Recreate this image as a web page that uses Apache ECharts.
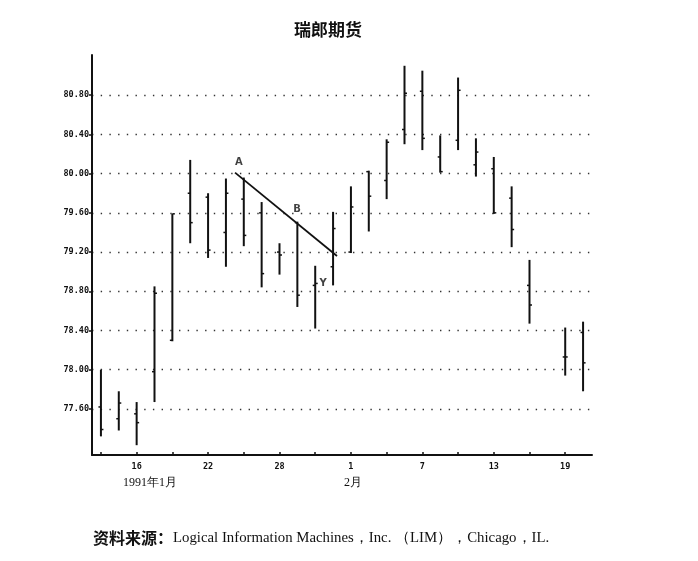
<!DOCTYPE html>
<html><head><meta charset="utf-8">
<script src="https://cdn.jsdelivr.net/npm/echarts@6/dist/echarts.min.js"></script>
<style>html,body{margin:0;padding:0;background:#fff}#c{width:698px;height:561px}</style>
</head><body><div id="c"></div>
<script>
// trading days, 14 Jan 1991 – 20 Feb 1991 (18 Feb holiday: empty slot)
const dayLabels = ['14','15','16','17','18','21','22','23','24','25','28','29','30','31','1','4','5','6','7','8','11','12','13','14','15','18','19','20'];
const highs  = [78.00,77.78,77.67,78.85,79.59,80.14,79.80,79.95,79.96,79.71,79.29,79.51,79.06,79.61,79.87,80.03,80.35,81.10,81.05,80.39,80.98,80.36,80.17,79.87,79.12,null,78.43,78.49];
const lows   = [77.32,77.38,77.23,77.67,78.29,79.29,79.14,79.05,79.26,78.84,78.97,78.64,78.42,78.86,79.19,79.41,79.74,80.30,80.24,80.01,80.24,79.97,79.59,79.25,78.47,null,77.94,77.78];
const opens  = [77.62,77.50,77.55,77.98,78.30,79.80,79.76,79.40,79.74,79.60,79.20,79.50,78.86,79.05,79.20,80.02,79.93,80.45,80.84,80.17,80.34,80.09,80.05,79.75,78.86,null,78.13,78.38];
const closes = [77.39,77.66,77.46,78.78,79.59,79.50,79.22,79.80,79.37,78.98,79.17,78.76,78.88,79.44,79.66,79.77,80.32,80.82,80.36,80.02,80.85,80.22,79.60,79.43,78.66,null,78.13,78.07];
const yTicks = [77.60,78.00,78.40,78.80,79.20,79.60,80.00,80.40,80.80];
const trendX = [7.51, 13.22];
const trendY = [80.01, 79.16];
const noteNames = ['A','B','Y'];
const noteX = [7.73, 10.98, 12.44];
const noteY = [80.11, 79.63, 78.88];
const monthLabels = ['1991年1月','2月'];

const barData = dayLabels.map((d,i)=> highs[i]==null ? [i,'-','-','-','-'] : [i,highs[i],lows[i],opens[i],closes[i]]);
const trendData = trendX.map((x,i)=>[x,trendY[i]]);
const noteData = noteX.map((x,i)=>({value:[x,noteY[i]], name:noteNames[i]}));

const chart = echarts.init(document.getElementById('c'), null, {renderer:'canvas'});
const ink = '#111';
chart.setOption({
  animation:false,
  backgroundColor:'#fff',
  title:{text:'瑞郎期货', left:289, top:16,
    textStyle:{fontFamily:'Noto Sans CJK SC', fontSize:17, fontWeight:'bold', color:ink}},
  grid:{left:92, top:55, right:106, bottom:106},
  xAxis:[{
    type:'category', data:dayLabels, boundaryGap:true,
    axisLine:{onZero:false, lineStyle:{color:ink, width:2}},
    axisTick:{show:true, inside:true, length:3, alignWithLabel:true, interval:(i)=>i%2===0, lineStyle:{color:ink,width:1.5}},
    axisLabel:{interval:(i)=>i%4===2, margin:7, color:ink, fontFamily:'DejaVu Sans Mono', fontWeight:'bold', fontSize:8.5},
    splitLine:{show:false}
  },{
    type:'value', min:-0.5, max:27.5, show:false
  }],
  yAxis:{
    type:'value', min:77.13, max:81.21,
    axisLine:{show:true, onZero:false, lineStyle:{color:ink, width:2}},
    axisTick:{show:true, length:3, customValues:yTicks, lineStyle:{color:ink,width:1.5}},
    axisLabel:{customValues:yTicks, formatter:(v)=>v.toFixed(2), margin:3, color:ink,
      fontFamily:'DejaVu Sans Mono', fontWeight:'bold', fontSize:8.5},
    splitLine:{show:true, lineStyle:{color:'#333', width:1.4, type:[1.4,7.3]}}
  },
  series:[{
    type:'custom', xAxisIndex:0, data:barData, encode:{x:0, y:[1,2,3,4]}, z:3,
    renderItem:(params, api)=>{
      const i = api.value(0), h = api.value(1), l = api.value(2);
      if (isNaN(h) || isNaN(l)) return null;
      const t = api.coord([i,h]), b = api.coord([i,l]);
      const o = api.coord([i,api.value(3)]), c = api.coord([i,api.value(4)]);
      return {type:'group', children:[
        {type:'line', shape:{x1:t[0],y1:t[1],x2:b[0],y2:b[1]}, style:{stroke:ink,lineWidth:2}},
        {type:'line', shape:{x1:o[0]-2.5,y1:o[1],x2:o[0],y2:o[1]}, style:{stroke:ink,lineWidth:1.5}},
        {type:'line', shape:{x1:c[0],y1:c[1],x2:c[0]+2.5,y2:c[1]}, style:{stroke:ink,lineWidth:1.5}}
      ]};
    }
  },{
    type:'line', xAxisIndex:1, data:trendData, symbol:'none',
    lineStyle:{color:ink, width:1.8}
  },{
    type:'scatter', xAxisIndex:1, data:noteData, symbolSize:0,
    label:{show:true, position:'inside', formatter:(p)=>p.name, color:ink,
      fontFamily:'DejaVu Sans', fontWeight:'bold', fontSize:10}
  }],
  graphic:[
    {type:'text', left:123, top:477, style:{text:monthLabels[0], fill:ink, font:'12px "Liberation Serif"'}},
    {type:'text', left:344, top:477, style:{text:monthLabels[1], fill:ink, font:'12px "Liberation Serif"'}},
    {type:'text', left:93, top:530, style:{
      text:'{b|资料来源：}{s|Logical Information Machines，Inc. （LIM），Chicago，IL.}',
      rich:{
        b:{fontFamily:'Noto Sans CJK SC', fontWeight:'bold', fontSize:16, fill:ink},
        s:{fontFamily:'Liberation Serif', fontSize:14.8, fill:ink}
      }}}
  ]
});
</script>
</body></html>
